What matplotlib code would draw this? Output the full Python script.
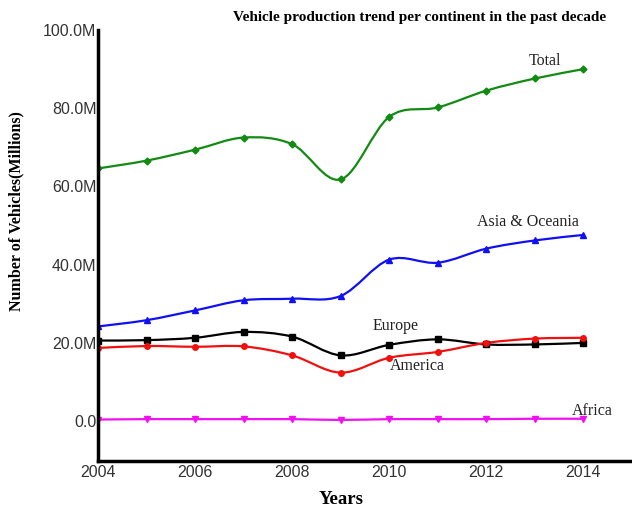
import numpy as np
import matplotlib.pyplot as plt
from matplotlib.path import Path
from matplotlib.patches import PathPatch
from matplotlib.ticker import FuncFormatter

plt.rcParams.update({"font.family": "Liberation Sans"})

years = [2004, 2005, 2006, 2007, 2008, 2009, 2010, 2011, 2012, 2013, 2014]
total = [64.6, 66.6, 69.4, 72.5, 70.8, 61.8, 77.8, 80.2, 84.5, 87.6, 90.0]
asia = [24.2, 25.8, 28.3, 30.9, 31.3, 32.0, 41.3, 40.5, 44.1, 46.2, 47.6]
europe = [20.6, 20.7, 21.3, 22.8, 21.6, 16.8, 19.5, 20.9, 19.6, 19.6, 20.0]
america = [18.7, 19.2, 19.0, 19.1, 16.8, 12.4, 16.2, 17.7, 20.0, 21.1, 21.3]
africa = [0.4, 0.5, 0.5, 0.5, 0.5, 0.3, 0.5, 0.5, 0.5, 0.6, 0.6]

series = [
    ("Total", total, "#138a13", "D", 3.5),
    ("Asia & Oceania", asia, "#1010f0", "^", 4.5),
    ("Europe", europe, "black", "s", 4),
    ("America", america, "#f01010", "o", 4),
    ("Africa", africa, "#f010f0", "v", 4.5),
]

# label positions (data coords)
labels = {
    "Total": (2013.2, 92.0),
    "Asia & Oceania": (2012.85, 51.0),
    "Europe": (2010.13, 24.2),
    "America": (2010.58, 14.0),
    "Africa": (2014.18, 2.7),
}


def smooth_path(x, y):
    # catmull-rom spline through the points, as cubic bezier segments
    pts = np.column_stack([x, y]).astype(float)
    ext = np.vstack([pts[0], pts, pts[-1]])
    verts = [pts[0]]
    codes = [Path.MOVETO]
    for i in range(1, len(ext) - 2):
        p0, p1, p2, p3 = ext[i - 1], ext[i], ext[i + 1], ext[i + 2]
        verts += [p1 + (p2 - p0) / 6, p2 - (p3 - p1) / 6, p2]
        codes += [Path.CURVE4] * 3
    return Path(verts, codes)


fig = plt.figure(figsize=(6.32, 5.09), dpi=100)
ax = fig.add_axes([98 / 632, 48 / 509, 1 - 98 / 632, (461 - 30) / 509])

for name, vals, col, mk, ms in series:
    ax.add_patch(PathPatch(smooth_path(years, vals), fill=False, edgecolor=col, lw=1.6))
    ax.plot(years, vals, ls="none", marker=mk, ms=ms, color=col)
    lx, ly = labels[name]
    ax.text(lx, ly, name, ha="center", va="center", fontsize=11.5,
            family="Liberation Serif", color="#222222")

ax.set_xlim(2004, 2015)
ax.set_ylim(-10.2, 100)
ax.set_xticks([2004, 2006, 2008, 2010, 2012, 2014])
ax.set_yticks([0, 20, 40, 60, 80, 100])
ax.yaxis.set_major_formatter(FuncFormatter(lambda v, p: "0.0" if v == 0 else f"{v:.1f}M"))

ax.spines["top"].set_visible(False)
ax.spines["right"].set_visible(False)
ax.spines["left"].set_linewidth(2.5)
ax.spines["bottom"].set_linewidth(2.5)
ax.tick_params(length=0, labelsize=11.5, labelcolor="#333333")
ax.tick_params(axis="x", pad=3)
ax.tick_params(axis="y", pad=1)

fig.text(420 / 632, 1 - 18 / 509, "Vehicle production trend per continent in the past decade",
         ha="center", va="center", fontsize=11, fontweight="bold", family="Liberation Serif")
fig.text(341 / 632, 1 - 500 / 509, "Years", ha="center", va="center", fontsize=13.5,
         fontweight="bold", family="Liberation Serif")
fig.text(16 / 632, 1 - 211 / 509, "Number of Vehicles(Millions)", ha="center", va="center",
         rotation=90, fontsize=11.5, fontweight="bold", family="Liberation Serif")

fig.savefig("out.png", dpi=100)
